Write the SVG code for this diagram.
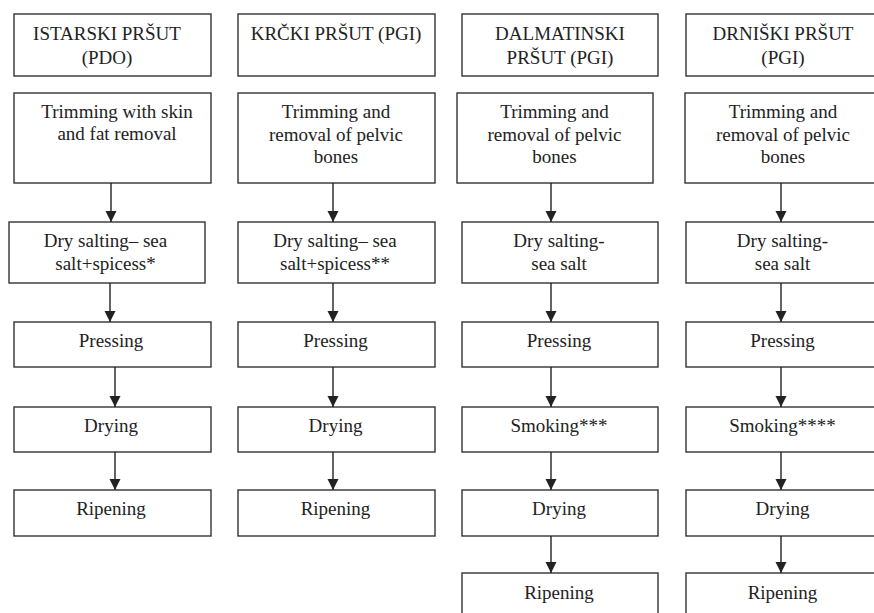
<svg xmlns="http://www.w3.org/2000/svg" width="874" height="613" viewBox="0 0 874 613" font-family="Liberation Serif, serif">
<style>
rect{fill:#fff;stroke:#333;stroke-width:1.4}
text{font-size:19px;fill:#222;text-anchor:middle}
.c line{stroke:#222;stroke-width:1.4}
</style>
<defs>
<marker id="ad" markerWidth="12" markerHeight="12" refX="6" refY="11" markerUnits="userSpaceOnUse" viewBox="0 0 12 12">
<path d="M0.5,0 L11.5,0 L6,11 Z" fill="#222"/>
</marker>
</defs>
<rect width="874" height="613" style="fill:#fff;stroke:none"/>

<g id="col1" font-family="Liberation Serif, serif">
<g id="h1"><rect x="14" y="14" width="197" height="62"/><text x="107" y="40">ISTARSKI PRŠUT</text><text x="107" y="63.5">(PDO)</text></g>
<g id="t1"><rect x="14" y="93" width="197" height="90"/><text x="117" y="118">Trimming with skin</text><text x="117" y="140">and fat removal</text></g>
<g id="s1"><rect x="9" y="222" width="196" height="61"/><text x="105.5" y="247">Dry salting– sea</text><text x="105.5" y="270">salt+spicess*</text></g>
<g id="p1"><rect x="14" y="322" width="197" height="45"/><text x="111" y="347">Pressing</text></g>
<g id="d1"><rect x="14" y="407" width="197" height="45"/><text x="111" y="432">Drying</text></g>
<g id="r1"><rect x="14" y="490" width="197" height="46"/><text x="111" y="515">Ripening</text></g>
</g>

<g id="col2" font-family="Liberation Serif, serif">
<g id="h2"><rect x="238" y="14" width="197" height="62"/><text x="336" y="40">KRČKI PRŠUT (PGI)</text></g>
<g id="t2"><rect x="238" y="93" width="197" height="90"/><text x="336" y="118">Trimming and</text><text x="336" y="140.5">removal of pelvic</text><text x="336" y="163">bones</text></g>
<g id="s2"><rect x="238" y="222" width="197" height="61"/><text x="335" y="247">Dry salting– sea</text><text x="335" y="270">salt+spicess**</text></g>
<g id="p2"><rect x="238" y="322" width="197" height="45"/><text x="335.5" y="347">Pressing</text></g>
<g id="d2"><rect x="238" y="407" width="197" height="45"/><text x="335.5" y="432">Drying</text></g>
<g id="r2"><rect x="238" y="490" width="197" height="46"/><text x="335.5" y="515">Ripening</text></g>
</g>

<g id="col3" font-family="Liberation Serif, serif">
<g id="h3"><rect x="462" y="14" width="196" height="62"/><text x="560" y="40">DALMATINSKI</text><text x="560" y="63.5">PRŠUT (PGI)</text></g>
<g id="t3"><rect x="457" y="93" width="196" height="90"/><text x="554.5" y="118">Trimming and</text><text x="554.5" y="140.5">removal of pelvic</text><text x="554.5" y="163">bones</text></g>
<g id="s3"><rect x="462" y="222" width="196" height="61"/><text x="559" y="247">Dry salting-</text><text x="559" y="270">sea salt</text></g>
<g id="p3"><rect x="462" y="322" width="196" height="45"/><text x="559" y="347">Pressing</text></g>
<g id="k3"><rect x="462" y="407" width="196" height="45"/><text x="559" y="432">Smoking***</text></g>
<g id="d3"><rect x="462" y="490" width="196" height="46"/><text x="559" y="515">Drying</text></g>
<g id="r3"><rect x="462" y="573" width="196" height="50"/><text x="559" y="599">Ripening</text></g>
</g>

<g id="col4" font-family="Liberation Serif, serif">
<g id="h4"><rect x="686" y="14" width="196" height="62"/><text x="783" y="40">DRNIŠKI PRŠUT</text><text x="783" y="63.5">(PGI)</text></g>
<g id="t4"><rect x="685" y="93" width="196" height="90"/><text x="783" y="118">Trimming and</text><text x="783" y="140.5">removal of pelvic</text><text x="783" y="163">bones</text></g>
<g id="s4"><rect x="686" y="222" width="196" height="61"/><text x="782.5" y="247">Dry salting-</text><text x="782.5" y="270">sea salt</text></g>
<g id="p4"><rect x="686" y="322" width="196" height="45"/><text x="782.5" y="347">Pressing</text></g>
<g id="k4"><rect x="686" y="407" width="196" height="45"/><text x="782.5" y="432">Smoking****</text></g>
<g id="d4"><rect x="686" y="490" width="196" height="46"/><text x="782.5" y="515">Drying</text></g>
<g id="r4"><rect x="686" y="573" width="196" height="50"/><text x="782.5" y="599">Ripening</text></g>
</g>

<g id="connectors" class="c">
<line x1="111" y1="183" x2="111" y2="222" marker-end="url(#ad)"/>
<line x1="110" y1="283" x2="110" y2="322" marker-end="url(#ad)"/>
<line x1="115" y1="367" x2="115" y2="407" marker-end="url(#ad)"/>
<line x1="115" y1="452" x2="115" y2="490" marker-end="url(#ad)"/>

<line x1="333" y1="183" x2="333" y2="222" marker-end="url(#ad)"/>
<line x1="333" y1="283" x2="333" y2="322" marker-end="url(#ad)"/>
<line x1="333" y1="367" x2="333" y2="407" marker-end="url(#ad)"/>
<line x1="333" y1="452" x2="333" y2="490" marker-end="url(#ad)"/>

<line x1="551" y1="183" x2="551" y2="222" marker-end="url(#ad)"/>
<line x1="551" y1="283" x2="551" y2="322" marker-end="url(#ad)"/>
<line x1="551" y1="367" x2="551" y2="407" marker-end="url(#ad)"/>
<line x1="551" y1="452" x2="551" y2="490" marker-end="url(#ad)"/>
<line x1="551" y1="536" x2="551" y2="573" marker-end="url(#ad)"/>

<line x1="781" y1="183" x2="781" y2="222" marker-end="url(#ad)"/>
<line x1="781" y1="283" x2="781" y2="322" marker-end="url(#ad)"/>
<line x1="781" y1="367" x2="781" y2="407" marker-end="url(#ad)"/>
<line x1="781" y1="452" x2="781" y2="490" marker-end="url(#ad)"/>
<line x1="781" y1="536" x2="781" y2="573" marker-end="url(#ad)"/>
</g>
</svg>
